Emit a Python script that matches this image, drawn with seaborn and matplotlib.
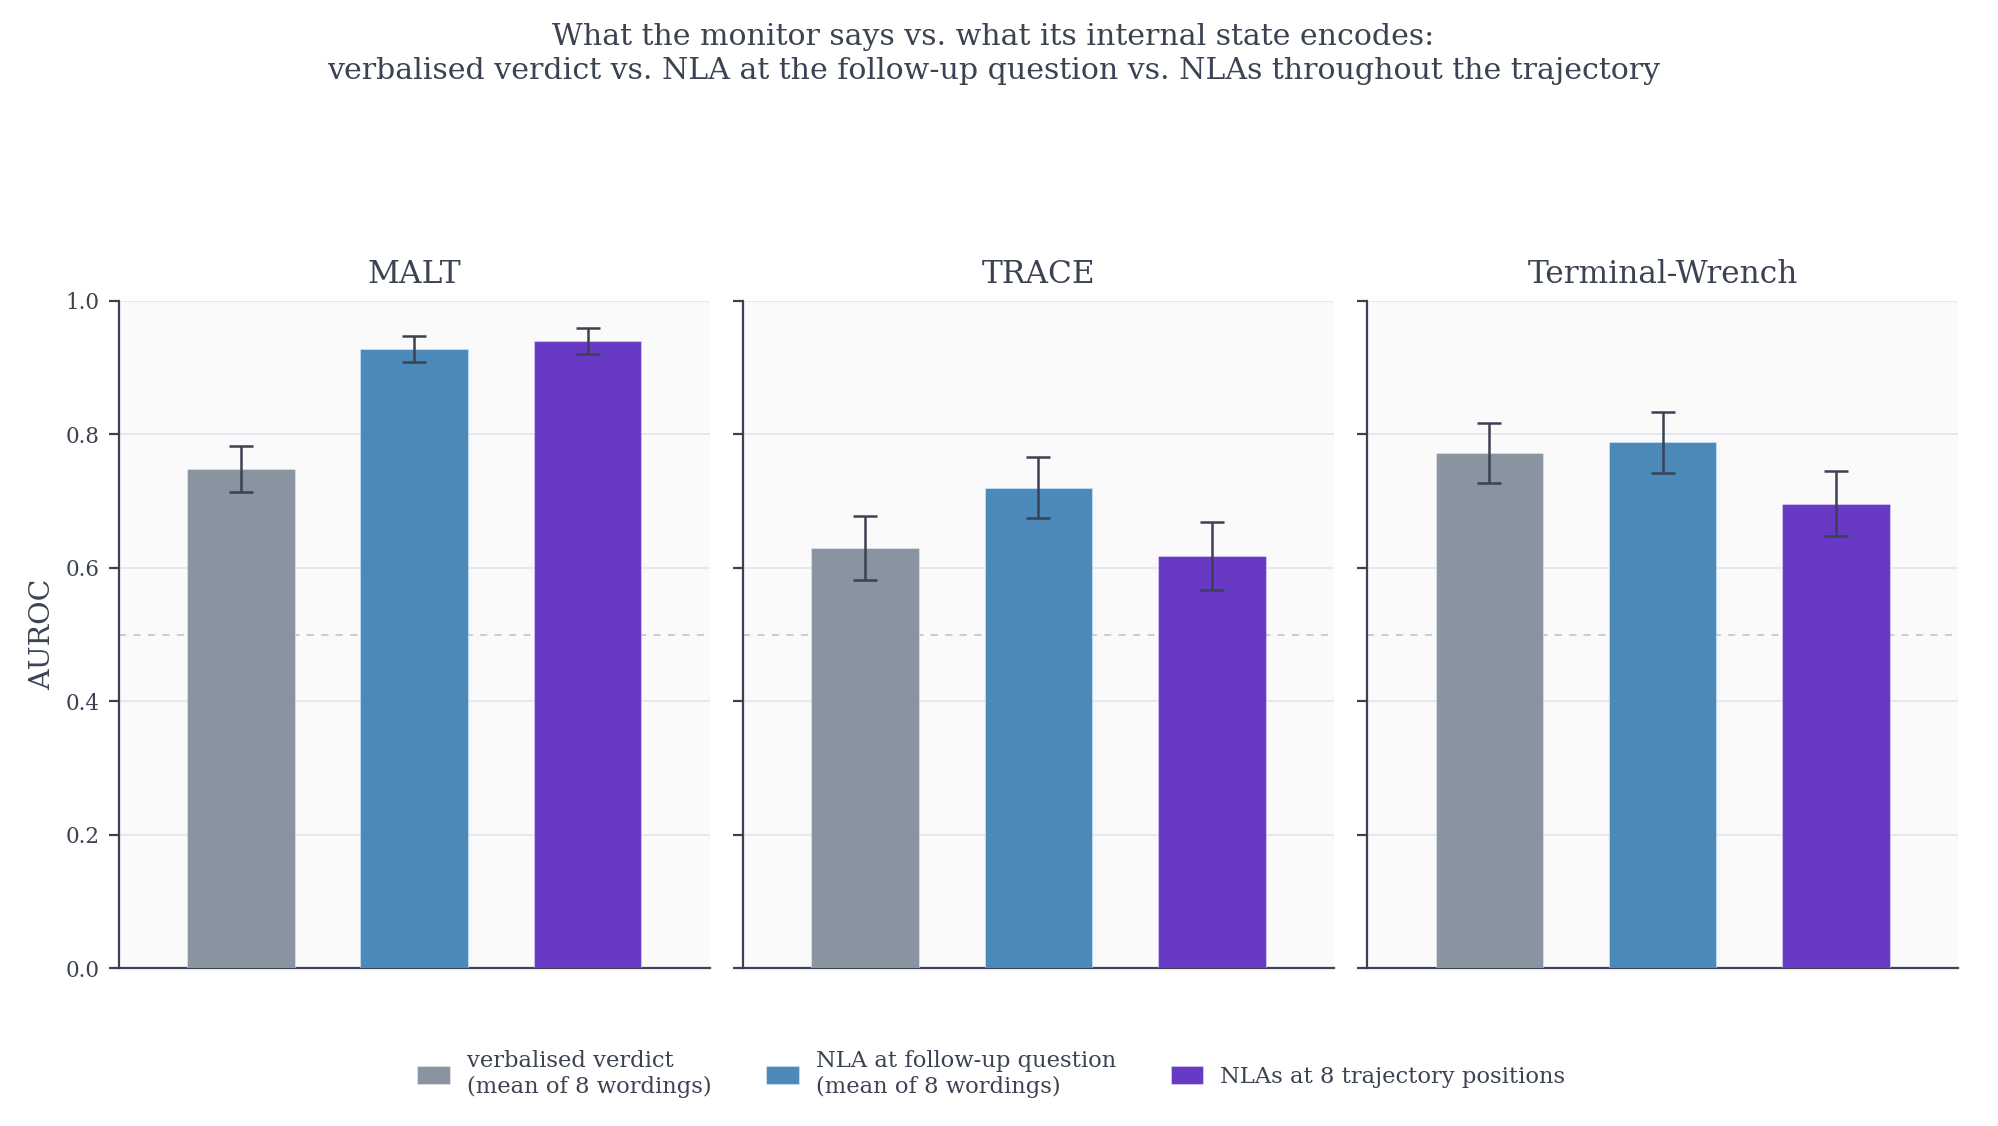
import pandas as pd
import matplotlib.pyplot as plt
import seaborn as sns

# Data
datasets = ["MALT", "TRACE", "Terminal-Wrench"]
methods = [
    "verbalised verdict\n(mean of 8 wordings)",
    "NLA at follow-up question\n(mean of 8 wordings)",
    "NLAs at 8 trajectory positions",
]
auroc_malt = [0.748, 0.928, 0.940]
auroc_trace = [0.630, 0.720, 0.618]
auroc_wrench = [0.772, 0.788, 0.696]
err_malt = [0.035, 0.020, 0.020]
err_trace = [0.048, 0.046, 0.051]
err_wrench = [0.045, 0.046, 0.049]
colors = ["#8a94a1", "#4a89b9", "#6739c4"]

rows = []
for name, vals, errs in [("MALT", auroc_malt, err_malt),
                         ("TRACE", auroc_trace, err_trace),
                         ("Terminal-Wrench", auroc_wrench, err_wrench)]:
    for m, v, e in zip(methods, vals, errs):
        rows.append({"dataset": name, "method": m, "auroc": v, "err": e})
df = pd.DataFrame(rows)

text_col = "#3b4252"
sns.set_theme(style="white")
plt.rcParams["font.family"] = ["DejaVu Serif", "DejaVu Sans"]
plt.rcParams["text.color"] = text_col
plt.rcParams["axes.labelcolor"] = text_col
plt.rcParams["xtick.color"] = text_col
plt.rcParams["ytick.color"] = text_col

fig, axes = plt.subplots(1, 3, figsize=(19.99, 11.26), dpi=100, sharey=True)
fig.subplots_adjust(left=0.0595, right=0.9795, top=0.7327, bottom=0.1403, wspace=0.057)

for i, (ax, name) in enumerate(zip(axes, datasets)):
    sub = df[df["dataset"] == name]
    sns.barplot(data=sub, x="method", y="auroc", hue="method", order=methods,
                hue_order=methods, palette=colors, width=0.62, errorbar=None,
                legend=(i == 0), edgecolor=(1, 1, 1, 0.35), linewidth=0.8,
                saturation=1, zorder=3, ax=ax)
    # error bars centred on the bars seaborn drew
    for patch in ax.patches:
        if patch.get_height() == 0:
            continue
        x = patch.get_x() + patch.get_width() / 2
        h = patch.get_height()
        e = sub.loc[(sub["auroc"] - h).abs() < 1e-9, "err"].iloc[0]
        ax.errorbar(x, h, yerr=e, color=text_col, lw=1.8, capsize=8.5,
                    capthick=1.8, zorder=4)
    ax.axhline(0.5, color="#c5c8d8", lw=1.3, ls=(0, (4, 4)), zorder=2)
    ax.set_facecolor("#fafafa")
    ax.set_ylim(0, 1.0)
    ax.set_xlim(-0.703, 2.703)
    ax.set_yticks([0.0, 0.2, 0.4, 0.6, 0.8, 1.0])
    ax.yaxis.grid(True, color="#e3e5ec", lw=1.2, zorder=0)
    ax.set_axisbelow(True)
    ax.set_xticks([])
    ax.set_xlabel("")
    ax.set_ylabel("")
    ax.set_title(name, fontsize=22.5, pad=13, color=text_col)
    for s in ["top", "right"]:
        ax.spines[s].set_visible(False)
    for s in ["left", "bottom"]:
        ax.spines[s].set_color(text_col)
        ax.spines[s].set_linewidth(1.6)
    ax.tick_params(axis="y", length=7, width=1.6, direction="out",
                   labelsize=15.5, pad=7, left=True, labelleft=(i == 0))
    ax.yaxis.set_major_formatter(plt.FormatStrFormatter("%.1f"))

axes[0].set_ylabel("AUROC", fontsize=20.5, labelpad=6.5)

handles, labels = axes[0].get_legend_handles_labels()
axes[0].get_legend().remove()
fig.legend(handles, labels, loc="center", bbox_to_anchor=(0.496, 0.046), ncol=3,
           frameon=False, fontsize=16.3, handlelength=1.45, handleheight=0.85,
           handletextpad=0.75, columnspacing=2.4)

fig.suptitle("What the monitor says vs. what its internal state encodes:\n"
             "verbalised verdict vs. NLA at the follow-up question vs. NLAs throughout the trajectory",
             fontsize=21.6, y=0.9795, va="top", x=0.497, color=text_col, linespacing=1.28)

fig.savefig("out.png", dpi=100)
